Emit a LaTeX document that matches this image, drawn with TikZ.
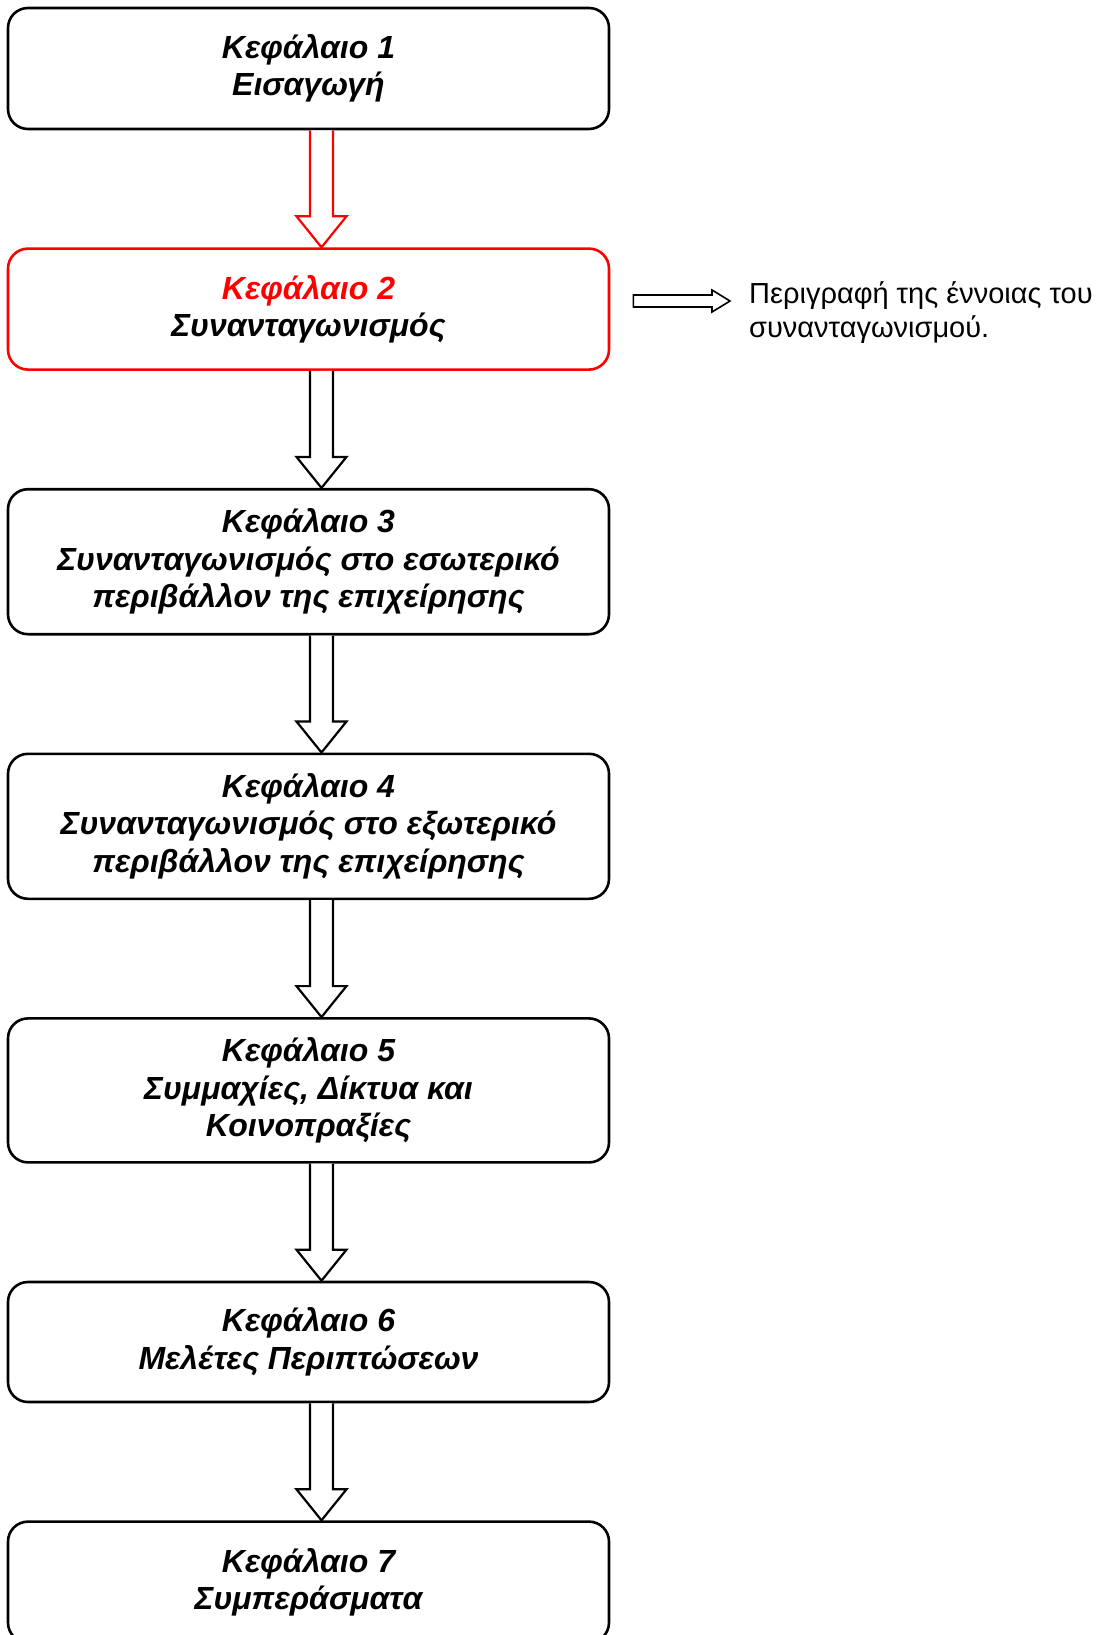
\documentclass[tikz,border=0pt]{standalone}
\usepackage{fontspec}
\setmainfont{Liberation Sans}
\usetikzlibrary{positioning,calc}
\definecolor{chred}{RGB}{255,0,0}
\tikzset{
    chapter/.style = {
        draw = black,
        line width = 2.6pt,
        rounded corners = 20pt,
        fill = white,
        minimum width = 601pt,
        inner sep = 0pt,
        align = center,
        font = \fontsize{32}{37.5}\selectfont\bfseries\itshape
    },
    current/.style = {
        chapter,
        draw = chred
    },
    blockarrow/.style = {
        draw = black,
        line width = 2.2pt,
        fill = white,
        line join = miter
    },
    sidenote/.style = {
        inner sep = 0pt,
        align = left,
        font = \fontsize{29}{34}\selectfont
    }
}
% block arrow from the bottom of one box to the top of the next
\newcommand{\flowarrow}[3][black]{%
  \draw[blockarrow, draw=#1] let \p1 = ($(#2.south)+(13,0)$), \p2 = ($(#3.north)+(13,0)$) in
    (\x1-11.5pt,\y1) -- (\x1-11.5pt,\y2+31pt) -- (\x1-25pt,\y2+31pt) -- (\x1,\y2)
    -- (\x1+25pt,\y2+31pt) -- (\x1+11.5pt,\y2+31pt) -- (\x1+11.5pt,\y1);
}

\begin{document}
\begin{tikzpicture}[x=1pt, y=-1pt, node distance=117pt]
    \useasboundingbox (0,0) rectangle (1104,1635);
    \clip (0,0) rectangle (1104,1635);

    \node (b1) [chapter, minimum height=121pt] at (308.5,68.5) {Κεφάλαιο 1\\Εισαγωγή};
    \node (b2) [current, minimum height=121pt, below=of b1] {\textcolor{chred}{Κεφάλαιο 2}\\Συνανταγωνισμός};
    \node (b3) [chapter, minimum height=145pt, below=of b2] {Κεφάλαιο 3\\Συνανταγωνισμός στο εσωτερικό\\περιβάλλον της επιχείρησης};
    \node (b4) [chapter, minimum height=145pt, below=of b3] {Κεφάλαιο 4\\Συνανταγωνισμός στο εξωτερικό\\περιβάλλον της επιχείρησης};
    \node (b5) [chapter, minimum height=144pt, below=of b4] {Κεφάλαιο 5\\Συμμαχίες, Δίκτυα και\\Κοινοπραξίες};
    \node (b6) [chapter, minimum height=120pt, below=of b5] {Κεφάλαιο 6\\Μελέτες Περιπτώσεων};
    \node (b7) [chapter, minimum height=121pt, below=of b6] {Κεφάλαιο 7\\Συμπεράσματα};

    \flowarrow[chred]{b1}{b2}
    \flowarrow{b2}{b3}
    \flowarrow{b3}{b4}
    \flowarrow{b4}{b5}
    \flowarrow{b5}{b6}
    \flowarrow{b6}{b7}

    %add description
    \node (desc) [sidenote, anchor=north west] at (749,281) {Περιγραφή της έννοιας του\\συνανταγωνισμού.};
    \draw[blockarrow, line width=1.6pt] let \p1 = ($(b2.east)+(23,0)$), \p2 = ($(desc.north west)+(-19,20)$) in
        (\x1,\y2+6pt) -- (\x2-18pt,\y2+6pt) -- (\x2-18pt,\y2+11pt) -- (\x2,\y2)
        -- (\x2-18pt,\y2-11pt) -- (\x2-18pt,\y2-6pt) -- (\x1,\y2-6pt) -- cycle;
\end{tikzpicture}
\end{document}
